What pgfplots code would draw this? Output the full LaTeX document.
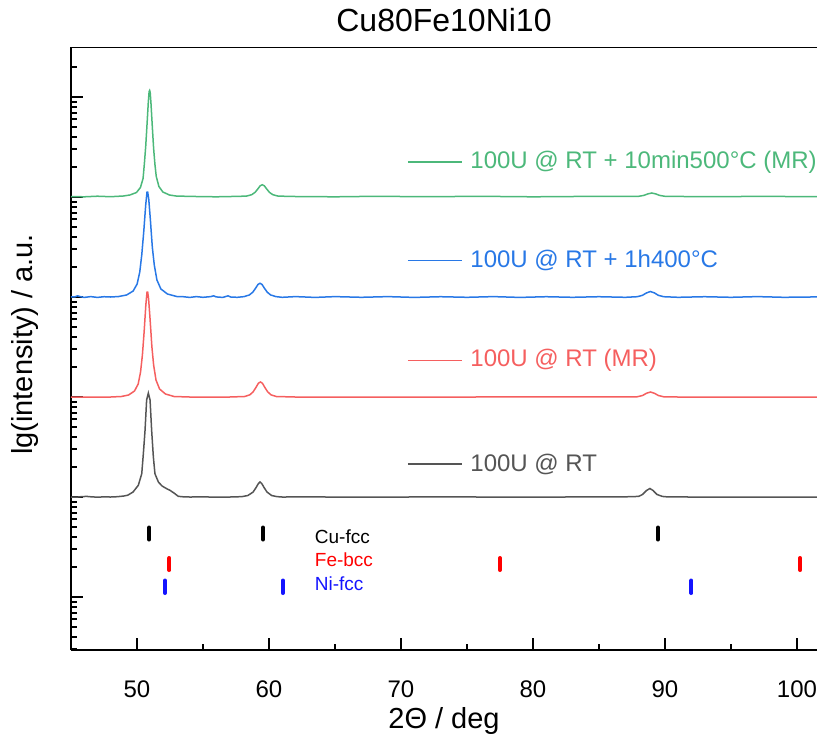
\documentclass[border=0pt]{standalone}
\usepackage{fontspec}
\setmainfont{Liberation Sans}
\usepackage{pgfplots}
\pgfplotsset{compat=1.18}
\definecolor{cG}{RGB}{76,184,122}
\definecolor{cB}{RGB}{40,120,230}
\definecolor{cR}{RGB}{245,95,95}
\definecolor{cK}{RGB}{85,85,85}
\definecolor{pR}{RGB}{255,0,0}
\definecolor{pB}{RGB}{20,20,255}
\begin{document}
\begin{tikzpicture}
\begin{axis}[
  scale only axis, width=373pt, height=301.5pt,
  at={(0,0)}, anchor=south west,
  xmin=45, xmax=101.52, ymin=-0.53, ymax=5.5,
  axis x line*=bottom, axis y line*=left,
  every non boxed x axis/.style={}, every non boxed y axis/.style={},
  axis line style={line width=1.35pt, -},
  xtick={50,60,...,100}, minor xtick={55,65,...,95},
  ytick={0,1,2,3,4,5}, yticklabels={},
  minor ytick={-0.523,-0.398,-0.301,-0.222,-0.155,-0.097,-0.046,
    0.301,0.477,0.602,0.699,0.778,0.845,0.903,0.954,
    1.301,1.477,1.602,1.699,1.778,1.845,1.903,1.954,
    2.301,2.477,2.602,2.699,2.778,2.845,2.903,2.954,
    3.301,3.477,3.602,3.699,3.778,3.845,3.903,3.954,
    4.301,4.477,4.602,4.699,4.778,4.845,4.903,4.954,
    5.301},
  tick align=inside, major tick length=5.85pt, minor tick length=2.85pt,
  tick style={line width=1pt, black},
  /pgf/number format/assume math mode=true,
  xticklabel style={font=\fontsize{12}{14}\selectfont, anchor=base, yshift=-23.5pt},
  every axis title shift=0pt,
  title={Cu80Fe10Ni10},
  title style={at={(axis description cs:0.5,1.0249)}, anchor=base, yshift=0pt, font=\fontsize{16}{19}\selectfont},
  xlabel={2Θ / deg},
  xlabel style={at={(axis description cs:0.5,-0.1177)}, anchor=center, font=\fontsize{14.5}{17}\selectfont},
  ylabel={lg(intensity) / a.u.},
  ylabel style={at={(axis description cs:-0.0623,0.5066)}, anchor=center, font=\fontsize{14.5}{17}\selectfont},
  clip=true,
]
% 100U @ RT (black)
\addplot[cK, line width=0.75pt] coordinates {
(45.0,1.000) (45.4,0.998) (45.8,1.004) (46.2,1.006) (46.6,1.001) (47.0,0.999) (47.5,1.001) (48.0,1.000) (48.5,1.003) (49.0,1.010) (49.3,1.018) (49.7,1.05) (50.1,1.117) (50.36,1.233) (50.48,1.43) (50.61,1.667) (50.73,1.97) (50.86,2.04) (50.99,1.97) (51.11,1.667) (51.24,1.40) (51.36,1.233) (51.62,1.15) (51.9,1.11) (52.25,1.083) (52.5,1.067) (52.8,1.04) (53.13,1.007) (53.5,1.002) (54.0,1.000) (55.0,1.001) (56.0,0.999) (57.0,1.000) (57.5,1.001) (58.0,1.005) (58.4,1.015) (58.8,1.05) (59.0,1.09) (59.2,1.135) (59.32,1.15) (59.45,1.135) (59.65,1.09) (59.85,1.05) (60.2,1.015) (60.6,1.004) (61.0,1.000) (63,1.001) (66,0.999) (70,1.000) (74,1.001) (78,0.999) (82,1.000) (85,1.001) (87,1.002) (88.0,1.006) (88.3,1.025) (88.6,1.065) (88.86,1.085) (89.1,1.065) (89.4,1.025) (89.8,1.006) (90.2,1.001) (92,1.000) (95,0.999) (98,1.000) (101.6,1.000)
};
% 100U @ RT (MR) (red)
\addplot[cR, line width=0.75pt] coordinates {
(45,2.0) (48,2.0) (48.81,2.005) (49.36,2.02) (49.81,2.06) (50.09,2.13) (50.27,2.25) (50.41,2.42) (50.54,2.65) (50.67,2.92) (50.76,3.05) (50.81,3.05) (50.88,2.98) (50.99,2.78) (51.13,2.5) (51.26,2.32) (51.44,2.17) (51.71,2.08) (52.16,2.03) (52.81,2.005) (54,2.0) (57,2.0) (58.15,2.005) (58.55,2.022) (58.8,2.052) (59.0,2.093) (59.2,2.138) (59.35,2.15) (59.5,2.138) (59.7,2.093) (59.9,2.052) (60.15,2.022) (60.55,2.005) (62,2.0) (75,2.0) (87.9,2.0025) (88.3,2.015) (88.6,2.0375) (88.9,2.05) (89.2,2.0375) (89.5,2.015) (89.9,2.0025) (91,2.0) (101.6,2.0)
};
% 100U @ RT + 1h400C (blue)
\addplot[cB, line width=0.75pt] coordinates {
(45,3.0) (45.3,3.002) (45.5,3.012) (45.7,3.004) (46.0,2.996) (46.5,3.004) (47.0,2.996) (47.5,3.003) (48.0,3.000) (48.61,3.005) (49.21,3.02) (49.71,3.06) (50.01,3.13) (50.21,3.25) (50.36,3.42) (50.51,3.65) (50.66,3.92) (50.76,4.05) (50.81,4.05) (50.89,3.98) (51.01,3.78) (51.16,3.5) (51.31,3.32) (51.51,3.17) (51.81,3.08) (52.31,3.03) (53.01,3.005) (53.5,3.003) (54,2.996) (54.5,3.004) (55,2.997) (55.6,3.004) (55.8,3.012) (56.0,3.001) (56.5,2.996) (56.9,3.012) (57.1,3.000) (57.6,2.997) (58.12,3.004) (58.52,3.021) (58.77,3.048) (58.97,3.085) (59.17,3.126) (59.32,3.137) (59.47,3.126) (59.67,3.085) (59.87,3.048) (60.12,3.021) (60.52,3.004) (61,2.997) (62,3.004) (63.5,2.996) (65,3.004) (67,2.997) (69,3.004) (71,2.996) (73,3.003) (75,2.997) (77,3.004) (79,2.996) (81,3.003) (83,2.997) (85,3.003) (87,2.997) (87.9,3.003) (88.3,3.017) (88.6,3.041) (88.9,3.055) (89.2,3.041) (89.5,3.017) (89.9,3.003) (91,2.997) (93,3.003) (95,2.997) (97,3.004) (99,2.997) (101.6,3.001)
};
% 100U @ RT + 10min500C (MR) (green)
\addplot[cG, line width=0.75pt] coordinates {
(45,4.005) (46,4.002) (47,4.008) (48,4.003) (48.96,4.01) (49.46,4.02) (49.96,4.045) (50.26,4.095) (50.46,4.185) (50.56,4.335) (50.66,4.505) (50.76,4.725) (50.86,4.955) (50.92,5.055) (50.96,5.065) (51.00,5.045) (51.06,4.935) (51.16,4.705) (51.26,4.485) (51.36,4.325) (51.46,4.205) (51.66,4.105) (51.96,4.05) (52.46,4.02) (52.96,4.01) (54,4.006) (56,4.002) (57.5,4.006) (58.29,4.009) (58.69,4.023) (58.94,4.046) (59.14,4.078) (59.34,4.113) (59.49,4.122) (59.64,4.113) (59.84,4.078) (60.04,4.046) (60.29,4.023) (60.69,4.009) (62,4.005) (65,4.002) (68,4.007) (72,4.003) (76,4.007) (80,4.002) (84,4.006) (88.0,4.007) (88.4,4.016) (88.7,4.031) (89.0,4.04) (89.3,4.031) (89.6,4.016) (90.0,4.007) (93,4.003) (97,4.006) (101.6,4.004)
};
% legend-like annotations
\addplot[cG, line width=0.75pt, forget plot] coordinates {(70.53,4.35) (74.62,4.35)};
\addplot[cB, line width=0.75pt, forget plot] coordinates {(70.53,3.365) (74.62,3.365)};
\addplot[cR, line width=0.75pt, forget plot] coordinates {(70.53,2.365) (74.62,2.365)};
\addplot[cK, line width=0.75pt, forget plot] coordinates {(70.53,1.33) (74.62,1.33)};
\node[anchor=west, inner sep=0pt, text=cG, font=\fontsize{12}{14}\selectfont] at (axis cs:75.23,4.35) {100U @ RT + 10min500°C (MR)};
\node[anchor=west, inner sep=0pt, text=cB, font=\fontsize{12}{14}\selectfont] at (axis cs:75.23,3.365) {100U @ RT + 1h400°C};
\node[anchor=west, inner sep=0pt, text=cR, font=\fontsize{12}{14}\selectfont] at (axis cs:75.23,2.365) {100U @ RT (MR)};
\node[anchor=west, inner sep=0pt, text=cK, font=\fontsize{12}{14}\selectfont] at (axis cs:75.23,1.33) {100U @ RT};
% reference phase positions
\addplot[black, line width=2pt, line cap=round, forget plot, unbounded coords=jump] coordinates {
(50.93,0.575) (50.93,0.695) (nan,nan) (59.55,0.575) (59.55,0.695) (nan,nan) (89.47,0.575) (89.47,0.695)};
\addplot[pR, line width=2pt, line cap=round, forget plot, unbounded coords=jump] coordinates {
(52.45,0.27) (52.45,0.39) (nan,nan) (77.5,0.27) (77.5,0.39) (nan,nan) (100.25,0.27) (100.25,0.39)};
\addplot[pB, line width=2pt, line cap=round, forget plot, unbounded coords=jump] coordinates {
(52.12,0.04) (52.12,0.165) (nan,nan) (61.05,0.04) (61.05,0.165) (nan,nan) (92.0,0.04) (92.0,0.165)};
\node[anchor=west, inner sep=0pt, text=black, font=\fontsize{9.5}{11}\selectfont] at (axis cs:63.45,0.60) {Cu-fcc};
\node[anchor=west, inner sep=0pt, text=pR, font=\fontsize{9.5}{11}\selectfont] at (axis cs:63.45,0.37) {Fe-bcc};
\node[anchor=west, inner sep=0pt, text=pB, font=\fontsize{9.5}{11}\selectfont] at (axis cs:63.45,0.13) {Ni-fcc};
% top frame line
\draw[line width=1.35pt] (rel axis cs:0,1) -- (rel axis cs:1,1);
\end{axis}
\pgfresetboundingbox
\useasboundingbox (-35.5pt,-43pt) rectangle (373pt,325pt);
\end{tikzpicture}
\end{document}
